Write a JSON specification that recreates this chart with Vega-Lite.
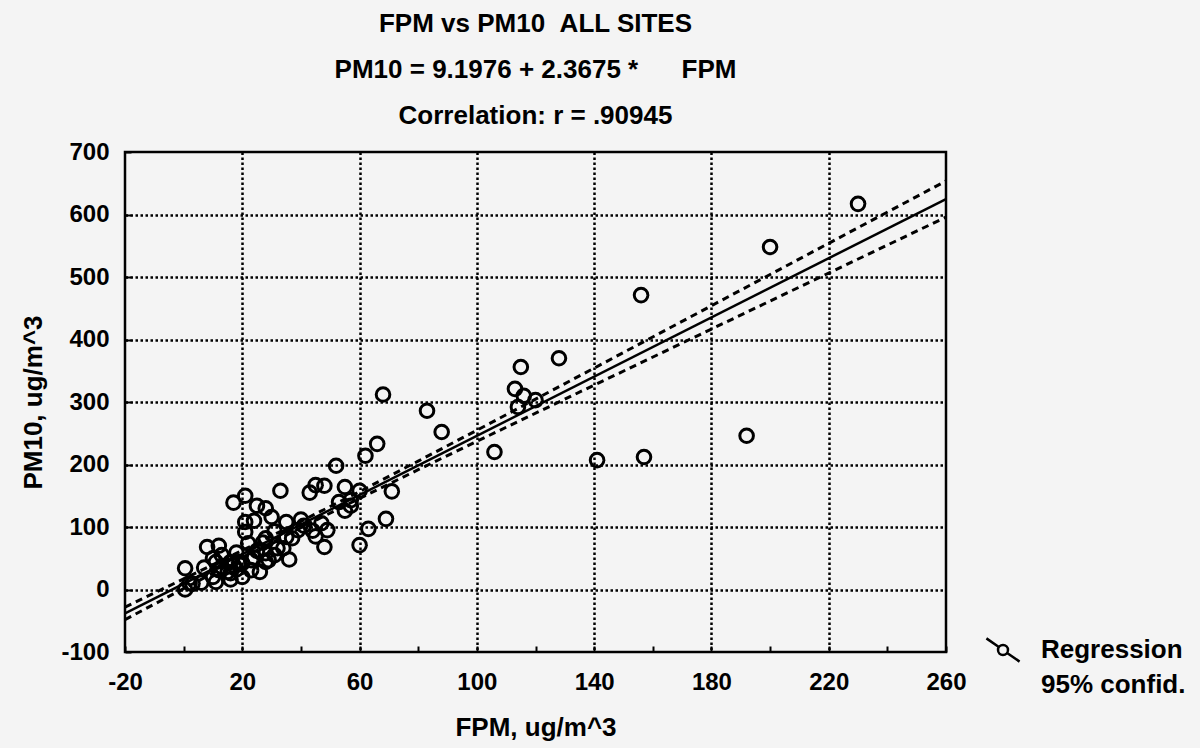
{
  "$schema": "https://vega.github.io/schema/vega-lite/v6.json",
  "width": 821,
  "height": 500,
  "autosize": {"type": "none"},
  "padding": {"left": 125, "top": 152, "right": 254, "bottom": 96},
  "background": "#f4f4f4",
  "config": {
    "view": {"stroke": "black", "strokeWidth": 2.5},
    "font": "Liberation Sans"
  },
  "title": {
    "text": ["FPM vs PM10\u00a0\u00a0ALL SITES", "PM10 = 9.1976 + 2.3675 *\u00a0\u00a0\u00a0\u00a0\u00a0\u00a0FPM", "Correlation: r = .90945"],
    "anchor": "middle",
    "font": "Liberation Sans",
    "fontSize": 26,
    "fontWeight": "bold",
    "lineHeight": 46,
    "offset": 11,
    "color": "black"
  },
  "resolve": {"scale": {"x": "shared", "y": "shared"}},
  "layer": [
    {
      "data": {"values": [
        {"fpm": 230, "pm10": 617}, {"fpm": 200, "pm10": 548}, {"fpm": 156, "pm10": 471}, {"fpm": 192, "pm10": 246},
        {"fpm": 157, "pm10": 212}, {"fpm": 141, "pm10": 207}, {"fpm": 128, "pm10": 370}, {"fpm": 115, "pm10": 356},
        {"fpm": 113, "pm10": 321}, {"fpm": 116, "pm10": 310}, {"fpm": 120, "pm10": 303}, {"fpm": 114, "pm10": 292},
        {"fpm": 83, "pm10": 286}, {"fpm": 88, "pm10": 252}, {"fpm": 68, "pm10": 312}, {"fpm": 66, "pm10": 233},
        {"fpm": 106, "pm10": 220}, {"fpm": 62, "pm10": 214}, {"fpm": 52, "pm10": 198}, {"fpm": 45, "pm10": 167},
        {"fpm": 48, "pm10": 166}, {"fpm": 43, "pm10": 155}, {"fpm": 33, "pm10": 158}, {"fpm": 55, "pm10": 164},
        {"fpm": 60, "pm10": 158}, {"fpm": 71, "pm10": 157}, {"fpm": 53, "pm10": 140}, {"fpm": 57, "pm10": 143},
        {"fpm": 57, "pm10": 134}, {"fpm": 55, "pm10": 126}, {"fpm": 40, "pm10": 112}, {"fpm": 41, "pm10": 102},
        {"fpm": 44, "pm10": 94}, {"fpm": 47, "pm10": 106}, {"fpm": 49, "pm10": 95}, {"fpm": 48, "pm10": 68},
        {"fpm": 63, "pm10": 97}, {"fpm": 69, "pm10": 113}, {"fpm": 60, "pm10": 71}, {"fpm": 17, "pm10": 139},
        {"fpm": 21, "pm10": 150}, {"fpm": 25, "pm10": 134}, {"fpm": 28, "pm10": 130}, {"fpm": 30, "pm10": 116},
        {"fpm": 35, "pm10": 108}, {"fpm": 31, "pm10": 93}, {"fpm": 21, "pm10": 108}, {"fpm": 24, "pm10": 110},
        {"fpm": 21, "pm10": 92}, {"fpm": 37, "pm10": 82}, {"fpm": 34, "pm10": 66}, {"fpm": 36, "pm10": 48},
        {"fpm": 28, "pm10": 82}, {"fpm": 28, "pm10": 44}, {"fpm": 26, "pm10": 28}, {"fpm": 23, "pm10": 31},
        {"fpm": 20, "pm10": 20}, {"fpm": 23, "pm10": 47}, {"fpm": 25, "pm10": 62}, {"fpm": 22, "pm10": 74},
        {"fpm": 27, "pm10": 75}, {"fpm": 28, "pm10": 58}, {"fpm": 18, "pm10": 59}, {"fpm": 19, "pm10": 44},
        {"fpm": 16, "pm10": 44}, {"fpm": 16, "pm10": 16}, {"fpm": 12, "pm10": 70}, {"fpm": 8, "pm10": 68},
        {"fpm": 0.5, "pm10": 34}, {"fpm": 7, "pm10": 35}, {"fpm": 11, "pm10": 44}, {"fpm": 13, "pm10": 36},
        {"fpm": 11, "pm10": 12}, {"fpm": 6, "pm10": 11}, {"fpm": 3, "pm10": 9}, {"fpm": 0.5, "pm10": 0},
        {"fpm": 18, "pm10": 32}, {"fpm": 15, "pm10": 28}, {"fpm": 13, "pm10": 55}, {"fpm": 31, "pm10": 55},
        {"fpm": 10, "pm10": 50}, {"fpm": 17, "pm10": 39}, {"fpm": 20, "pm10": 42}, {"fpm": 29, "pm10": 47},
        {"fpm": 16, "pm10": 26}, {"fpm": 10, "pm10": 20}, {"fpm": 24, "pm10": 51}, {"fpm": 35, "pm10": 84},
        {"fpm": 32, "pm10": 66}, {"fpm": 12, "pm10": 31}, {"fpm": 2, "pm10": 10}, {"fpm": 39, "pm10": 95},
        {"fpm": 45, "pm10": 85}
      ]},
      "mark": {"type": "point", "shape": "circle", "filled": false, "stroke": "black", "strokeWidth": 3, "size": 185, "opacity": 1},
      "encoding": {
        "x": {
          "field": "fpm", "type": "quantitative",
          "scale": {"domain": [-20, 260], "nice": false, "zero": false},
          "axis": {
            "values": [-20, -10, 0, 10, 20, 30, 40, 50, 60, 70, 80, 90, 100, 110, 120, 130, 140, 150, 160, 170, 180, 190, 200, 210, 220, 230, 240, 250, 260],
            "labelExpr": "(datum.value + 20) % 40 === 0 ? toString(datum.value) : ''",
            "labelOverlap": false,
            "labelFlush": false,
            "labelFont": "Liberation Sans",
            "labelFontSize": 24,
            "labelFontWeight": "bold",
            "labelColor": "black",
            "labelPadding": 24,
            "domain": false,
            "tickSize": -6,
            "tickWidth": 2,
            "tickColor": "black",
            "grid": true,
            "gridColor": "black",
            "gridWidth": 2.5,
            "gridDash": [2.5, 2.5],
            "gridOpacity": {"condition": {"test": "(datum.value + 20) % 40 === 0 && datum.value > -20 && datum.value < 260", "value": 1}, "value": 0},
            "title": "FPM, ug/m^3",
            "titleFont": "Liberation Sans",
            "titleFontSize": 26,
            "titleFontWeight": "bold",
            "titleColor": "black",
            "titlePadding": 20
          }
        },
        "y": {
          "field": "pm10", "type": "quantitative",
          "scale": {"domain": [-100, 700], "nice": false, "zero": false},
          "axis": {
            "values": [-100, -75, -50, -25, 0, 25, 50, 75, 100, 125, 150, 175, 200, 225, 250, 275, 300, 325, 350, 375, 400, 425, 450, 475, 500, 525, 550, 575, 600, 625, 650, 675, 700],
            "labelExpr": "datum.value % 100 === 0 ? toString(datum.value) : ''",
            "labelOverlap": false,
            "labelFlush": false,
            "labelFont": "Liberation Sans",
            "labelFontSize": 24,
            "labelFontWeight": "bold",
            "labelColor": "black",
            "labelPadding": 22,
            "domain": false,
            "tickSize": -6,
            "tickWidth": 2,
            "tickColor": "black",
            "grid": true,
            "gridColor": "black",
            "gridWidth": 2.5,
            "gridDash": [2.5, 2.5],
            "gridOpacity": {"condition": {"test": "datum.value % 100 === 0 && datum.value > -100 && datum.value < 700", "value": 1}, "value": 0},
            "title": "PM10, ug/m^3",
            "titleFont": "Liberation Sans",
            "titleFontSize": 26,
            "titleFontWeight": "bold",
            "titleColor": "black",
            "titlePadding": 14
          }
        }
      }
    },
    {
      "data": {"values": [{"fpm": -20, "pm10": -38.15}, {"fpm": 260, "pm10": 624.75}]},
      "mark": {"type": "line", "color": "black", "strokeWidth": 2.5, "clip": true},
      "encoding": {
        "x": {"field": "fpm", "type": "quantitative"},
        "y": {"field": "pm10", "type": "quantitative"}
      }
    },
    {
      "data": {"values": [
        {"fpm": -20, "pm10": -28.2, "band": "upper"}, {"fpm": 0, "pm10": 17.0, "band": "upper"}, {"fpm": 20, "pm10": 62.6, "band": "upper"},
        {"fpm": 40, "pm10": 109.0, "band": "upper"}, {"fpm": 60, "pm10": 156.6, "band": "upper"}, {"fpm": 80, "pm10": 205.5, "band": "upper"},
        {"fpm": 100, "pm10": 254.8, "band": "upper"}, {"fpm": 140, "pm10": 354.2, "band": "upper"}, {"fpm": 180, "pm10": 454.0, "band": "upper"},
        {"fpm": 220, "pm10": 553.9, "band": "upper"}, {"fpm": 260, "pm10": 653.7, "band": "upper"},
        {"fpm": -20, "pm10": -48.2, "band": "lower"}, {"fpm": 0, "pm10": 1.4, "band": "lower"}, {"fpm": 20, "pm10": 50.5, "band": "lower"},
        {"fpm": 40, "pm10": 98.8, "band": "lower"}, {"fpm": 60, "pm10": 145.8, "band": "lower"}, {"fpm": 80, "pm10": 191.7, "band": "lower"},
        {"fpm": 100, "pm10": 237.1, "band": "lower"}, {"fpm": 140, "pm10": 327.0, "band": "lower"}, {"fpm": 180, "pm10": 416.7, "band": "lower"},
        {"fpm": 220, "pm10": 506.3, "band": "lower"}, {"fpm": 260, "pm10": 595.8, "band": "lower"}
      ]},
      "mark": {"type": "line", "color": "black", "strokeWidth": 3, "strokeDash": [7, 5], "clip": true},
      "encoding": {
        "x": {"field": "fpm", "type": "quantitative"},
        "y": {"field": "pm10", "type": "quantitative"},
        "detail": {"field": "band"}
      }
    },
    {
      "data": {"values": [{"series": "Regression"}, {"series": "95% confid."}]},
      "mark": {"type": "point", "filled": false, "opacity": 0},
      "encoding": {
        "shape": {
          "field": "series", "type": "nominal",
          "scale": {
            "domain": ["Regression", "95% confid."],
            "range": ["M-1,-0.7L-0.25,-0.175M0.25,0.175L1,0.7M0.3,0A0.3,0.3 0 1 1 -0.3,0A0.3,0.3 0 1 1 0.3,0", "M0,0"]
          },
          "legend": {
            "title": null,
            "orient": "none",
            "legendX": 860,
            "legendY": 480,
            "symbolSize": 1100,
            "symbolStrokeColor": "black",
            "symbolStrokeWidth": 2.5,
            "symbolFillColor": "transparent",
            "symbolOpacity": 1,
            "labelFont": "Liberation Sans",
            "labelFontSize": 26,
            "labelFontWeight": "bold",
            "labelColor": "black",
            "labelOffset": 20,
            "rowPadding": 0,
            "labelLimit": 300
          }
        }
      }
    }
  ]
}
